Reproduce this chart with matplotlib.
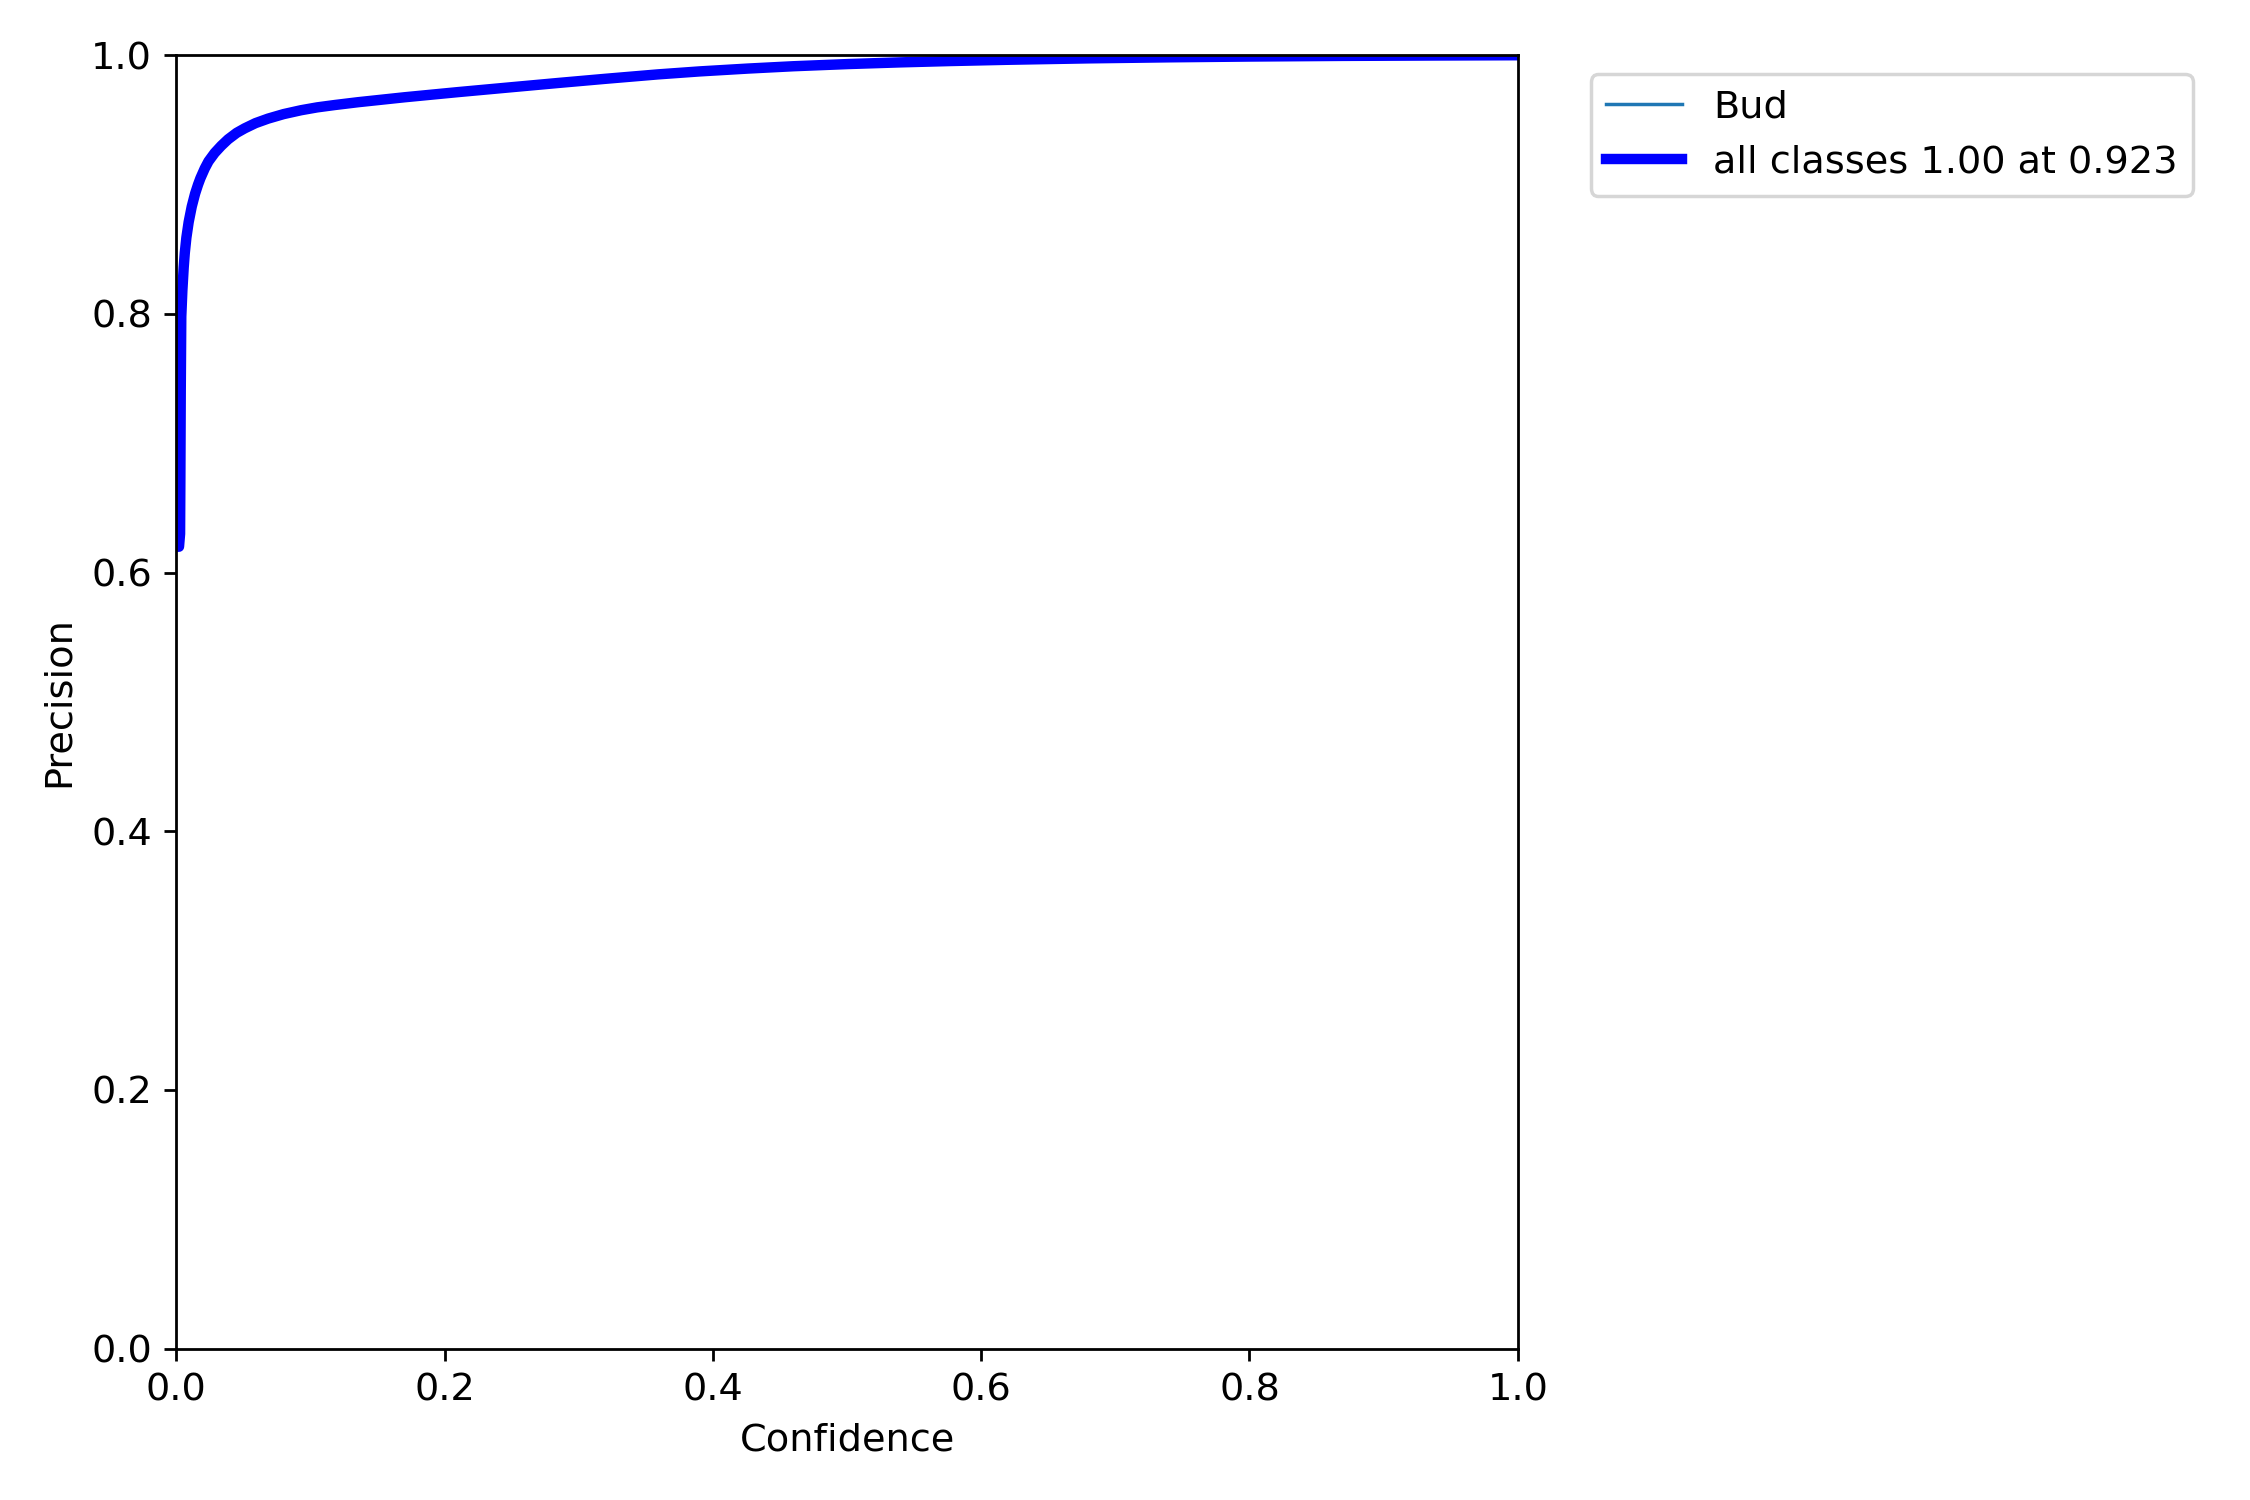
import numpy as np
from matplotlib import pyplot as plt

plt.rc('font', size=11)

# precision vs confidence
conf = [0.0, 0.002, 0.0028, 0.003, 0.0033, 0.0037, 0.0045, 0.0055, 0.0063, 0.0075,
        0.0092, 0.0115, 0.014, 0.0162, 0.018, 0.0212, 0.024, 0.0286, 0.0335, 0.0386,
        0.045, 0.051, 0.059, 0.0684, 0.08, 0.093, 0.105, 0.118, 0.1355, 0.17,
        0.21, 0.25, 0.285, 0.32, 0.359, 0.39, 0.426, 0.46, 0.501, 0.54,
        0.576, 0.62, 0.68, 0.74, 0.8, 0.87, 0.94, 1.0]
precision = [0.62, 0.62, 0.63, 0.669, 0.74, 0.798, 0.818, 0.836, 0.847, 0.859,
             0.871, 0.883, 0.893, 0.900, 0.905, 0.9125, 0.918, 0.9245, 0.930, 0.935,
             0.940, 0.9435, 0.9475, 0.951, 0.9545, 0.9575, 0.9597, 0.9615, 0.9637, 0.9675,
             0.9715, 0.9753, 0.9786, 0.9818, 0.9852, 0.9875, 0.9897, 0.9915, 0.9932, 0.9945,
             0.9955, 0.9965, 0.9976, 0.9984, 0.999, 0.9995, 0.9998, 1.0]
class_name = 'Bud'
best_p = 1.00
best_conf = 0.923

fig, ax = plt.subplots(1, 1, figsize=(9, 6), tight_layout=True)
ax.plot(conf, precision, linewidth=1, label=class_name)
ax.plot(conf, precision, linewidth=3, color='blue',
        label='all classes {:.2f} at {:.3f}'.format(best_p, best_conf))
ax.set_xlabel('Confidence')
ax.set_ylabel('Precision')
ax.set_xlim(0, 1)
ax.set_ylim(0, 1)
ax.legend(bbox_to_anchor=(1.04, 1), loc='upper left')
fig.savefig('out.png', dpi=250)
